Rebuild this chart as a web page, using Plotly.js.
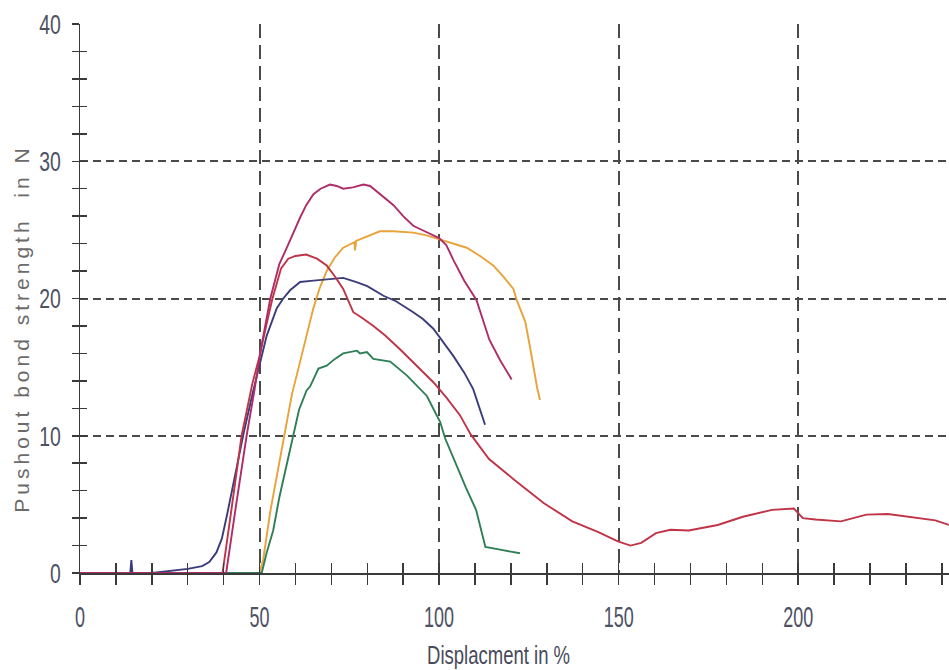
<!DOCTYPE html>
<html>
<head>
<meta charset="utf-8">
<script src="https://cdn.plot.ly/plotly-3.0.1.min.js"></script>
<style>html,body{margin:0;padding:0;background:#fff;}</style>
</head>
<body>
<div id="chart" style="width:949px;height:670px;"></div>
<script>
// ---- data ----
var xTickVals = [0, 50, 100, 150, 200];
var xTickText = ['0', '50', '100', '150', '200'];
var yTickVals = [0, 10, 20, 30, 40];
var yTickText = ['0', '10', '20', '30', '40'];

var orangeX = [0, 12.5, 50, 51, 53, 56.6, 59, 61.3, 63, 65, 66.8, 68.7, 71, 73.3, 76.4, 76.6, 76.9, 79.9, 83.5, 87.3, 92.8, 96.5, 100.3, 104, 107.7, 111.4, 115.1, 117.9, 120.7, 121.6, 124, 125.3, 126.7, 127.3, 128.1];
var orangeY = [0, 0, 0, 0.95, 4.5, 9.6, 13, 15.4, 17.3, 19.3, 20.8, 22, 23, 23.7, 24.1, 23.5, 24.2, 24.5, 24.9, 24.9, 24.8, 24.6, 24.3, 24.0, 23.7, 23.1, 22.4, 21.6, 20.7, 19.9, 18.3, 16.5, 14.3, 13.5, 12.6];

var greenX = [0, 50.6, 52, 53.8, 55.5, 57.6, 59.4, 61, 63.1, 64.1, 66.4, 68.7, 71, 73.3, 77.1, 78, 79.9, 81.7, 86.4, 91, 96.6, 100.3, 101.7, 104.8, 107.5, 110.3, 112.9, 117, 122.5];
var greenY = [0, 0, 1.5, 3.1, 5.5, 8.0, 10.2, 11.9, 13.3, 13.6, 14.9, 15.1, 15.6, 16.0, 16.2, 16.0, 16.1, 15.6, 15.4, 14.4, 12.9, 11.0, 9.8, 7.8, 6.2, 4.6, 1.9, 1.7, 1.44];

var blueX = [0, 14, 14.3, 14.6, 20, 27, 30, 34, 36, 38, 39.5, 41, 43, 45.5, 48, 50, 52, 54.8, 56.6, 58.5, 61.3, 65, 69, 73.3, 77, 80, 84.5, 88, 92.8, 95.5, 98.4, 101, 104, 107, 109.5, 112.8];
var blueY = [0, 0, 0.95, 0, 0, 0.2, 0.3, 0.5, 0.8, 1.5, 2.5, 4.3, 7, 10.1, 13, 15.2, 17.3, 19.3, 20, 20.6, 21.2, 21.3, 21.4, 21.5, 21.2, 20.9, 20.2, 19.8, 19.0, 18.5, 17.8, 16.9, 15.8, 14.6, 13.4, 10.8];

var redX = [0, 12.5, 12.6, 39.7, 42, 45, 48, 50, 52, 53.6, 56, 58, 60, 63, 66, 68.7, 71, 73.3, 76.1, 78.5, 81.7, 85, 89.1, 93.5, 98.4, 102, 105.8, 108.8, 113.9, 120.9, 129.1, 137.1, 144.2, 149.8, 153.3, 156.3, 160.4, 164.4, 169.5, 177.6, 184.6, 192.7, 198.8, 201.3, 204.8, 211.9, 219, 225, 230.1, 238.2, 242];
var redY = [-0.15, -0.15, 0, 0, 4.3, 10, 13.8, 15.8, 18.2, 20, 22.2, 22.9, 23.1, 23.2, 22.9, 22.4, 21.6, 20.7, 19.0, 18.6, 18.0, 17.3, 16.3, 15.2, 13.9, 12.8, 11.5, 10.1, 8.3, 6.8, 5.1, 3.76, 3.0, 2.3, 2.0, 2.2, 2.9, 3.15, 3.1, 3.5, 4.1, 4.6, 4.7, 4.0, 3.9, 3.76, 4.25, 4.3, 4.1, 3.83, 3.5];

var crimsonX = [0, 12, 40.7, 43.5, 46.4, 48.5, 50.5, 53, 55.5, 57.6, 59.5, 61.3, 63, 65, 67, 69.6, 71.5, 73.3, 76, 78.9, 80.8, 82.6, 85, 87.3, 90, 92.8, 96, 100, 102, 104, 107, 110.4, 114, 117, 120.2];
var crimsonY = [0, 0, 0, 5, 10, 13.2, 16.5, 20, 22.5, 23.7, 24.9, 25.9, 26.8, 27.6, 28.0, 28.3, 28.2, 28.0, 28.1, 28.3, 28.2, 27.8, 27.3, 26.8, 26.0, 25.3, 24.9, 24.4, 23.9, 22.8, 21.3, 19.9, 17.0, 15.5, 14.1];

var xTitle = 'Displacment in %';
var yTitle = 'Pushout bond strength  in N';

// ---- drawing ----
function line(x, y, color) {
  return {x: x, y: y, type: 'scatter', mode: 'lines', hoverinfo: 'skip',
          line: {color: color, width: 1.9}, showlegend: false};
}
var traces = [
  line(orangeX, orangeY, '#e8a33a'),
  line(greenX, greenY, '#2f7f56'),
  line(blueX, blueY, '#3a3d7a'),
  line(redX, redY, '#bf3447'),
  line(crimsonX, crimsonY, '#b02c68'),
  {x: [], y: [], xaxis: 'x2', yaxis: 'y2', type: 'scatter', mode: 'lines', showlegend: false, hoverinfo: 'skip'}
];

var sans = 'Liberation Sans, Arial, sans-serif';
var labelColor = '#4d5264';
var axisColor = '#3a3a3a';
var gridColor = '#4a4a4a';

var layout = {
  width: 949, height: 670,
  margin: {l: 80, r: 0, t: 24, b: 97},
  paper_bgcolor: '#ffffff', plot_bgcolor: '#ffffff',
  showlegend: false,
  xaxis: {
    range: [0, 242], tickmode: 'array', tickvals: xTickVals, ticktext: xTickText,
    ticks: 'outside', ticklen: 10, tickwidth: 1.5, tickcolor: axisColor,
    ticklabelstandoff: 6,
    tickfont: {family: sans, size: 30, color: labelColor},
    showline: true, linecolor: axisColor, linewidth: 1.5,
    zeroline: false,
    showgrid: true, gridcolor: gridColor, gridwidth: 2, griddash: '14px,7px',
    minor: {dtick: 10, tick0: 0, ticks: 'outside', ticklen: 10, tickwidth: 1.5, tickcolor: axisColor, showgrid: false}
  },
  yaxis: {
    range: [0, 40], tickmode: 'array', tickvals: yTickVals, ticktext: yTickText,
    ticks: 'outside', ticklen: 7, tickwidth: 1.5, tickcolor: axisColor,
    ticklabelstandoff: 5,
    tickfont: {family: sans, size: 28, color: labelColor},
    showline: true, linecolor: axisColor, linewidth: 1.5,
    zeroline: false,
    showgrid: true, gridcolor: gridColor, gridwidth: 2, griddash: '8px,5px',
    minor: {dtick: 2, tick0: 0, ticks: 'outside', ticklen: 7, tickwidth: 1.5, tickcolor: axisColor, showgrid: false}
  },
  xaxis2: {
    overlaying: 'x', anchor: 'y2', range: [0, 242], tickmode: 'linear', tick0: 0, dtick: 10,
    ticks: 'inside', ticklen: 10, tickwidth: 1.5, tickcolor: axisColor,
    showticklabels: false, showgrid: false, zeroline: false, showline: false
  },
  yaxis2: {
    overlaying: 'y', anchor: 'x2', range: [0, 40], tickmode: 'linear', tick0: 0, dtick: 2,
    ticks: 'inside', ticklen: 7, tickwidth: 1.5, tickcolor: axisColor,
    showticklabels: false, showgrid: false, zeroline: false, showline: false
  },
  annotations: [
    {text: xTitle, xref: 'paper', yref: 'paper', x: 0.4816, y: -0.149,
     xanchor: 'center', yanchor: 'middle', showarrow: false,
     font: {family: sans, size: 25, color: '#474a5a'}},
    {text: yTitle, xref: 'paper', yref: 'paper', x: -0.0667, y: 0.445,
     xanchor: 'center', yanchor: 'middle', textangle: -90, showarrow: false,
     font: {family: sans, size: 21, color: '#6b6b6b'}}
  ]
};

// squeeze text horizontally to mimic the condensed face of the original
function squeeze(el, width) {
  el.setAttribute('textLength', width);
  el.setAttribute('lengthAdjust', 'spacingAndGlyphs');
}

Plotly.newPlot('chart', traces, layout, {displayModeBar: false, staticPlot: true}).then(function () {
  document.querySelectorAll('.xtick text').forEach(function (t) {
    squeeze(t, 10 * t.textContent.length);
  });
  document.querySelectorAll('.ytick text').forEach(function (t) {
    squeeze(t, 10.8 * t.textContent.length);
  });
  document.querySelectorAll('.annotation-text').forEach(function (t) {
    if (t.textContent === yTitle) { t.style.letterSpacing = '4px'; }
    if (t.textContent === xTitle) { squeeze(t, 143); }
  });
});
</script>
</body>
</html>
